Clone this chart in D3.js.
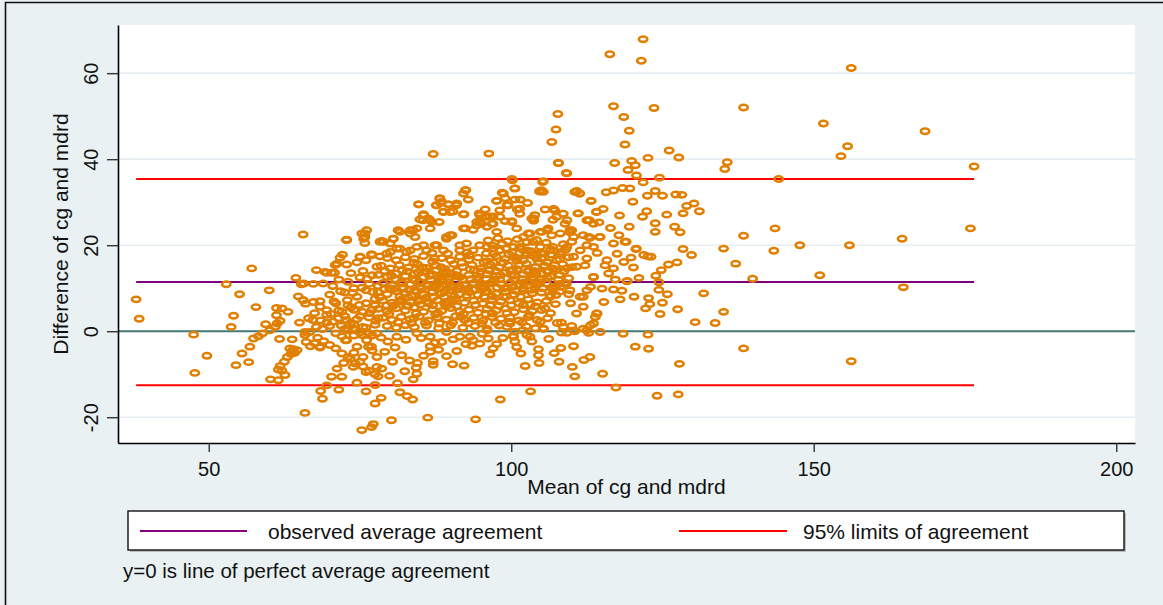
<!DOCTYPE html>
<html>
<head>
<meta charset="utf-8">
<script src="https://cdn.jsdelivr.net/npm/d3@7"></script>
<style>
  body { margin: 0; background: #e9f1f3; }
  svg { display: block; font-family: "Liberation Sans", Arial, sans-serif; }
</style>
</head>
<body>
<svg width="1163" height="605"></svg>
<script>
// Bland-Altman: mean of cg and mdrd vs their difference

const xTicks = [50, 100, 150, 200];
const yTicks = [-20, 0, 20, 40, 60];

const meanDiff = 11.45;
const upperLoA = 35.4;
const lowerLoA = -12.55;

const legendLabels = ["observed average agreement", "95% limits of agreement"];
const noteText = "y=0 is line of perfect average agreement";

// [mean, difference] pairs
const leftTail = [
  [38.0,7.4],[38.5,2.9],[47.5,-0.8],[47.7,-9.7],[49.7,-5.7],[52.9,10.9],[53.7,1.0],[54.1,3.6],[55.1,8.6],
  [54.5,-7.9],[55.5,-5.2],[56.6,-7.2],[57.1,14.6],[57.8,5.6],[60.0,9.5],[56.8,-3.6],[57.4,-1.7],[58.2,-1.2],
  [58.9,-0.5],[59.4,1.6],[60.1,0.2],[61.0,1.0],[61.3,1.8],[61.8,2.4],[61.2,5.4],[62.1,5.3],[63.1,4.5],
  [61.2,3.7],[61.7,-1.8],[63.8,-1.9],[65.0,2.0],[64.4,12.4],[65.3,10.9],[64.8,8.1],[65.6,7.2],[66.0,6.4],
  [65.6,22.5],[63.4,-4.0],[63.8,-4.6],[64.2,-5.0],[64.6,-4.4],[63.6,-5.3],[64.0,-4.2],[63.0,-6.0],[62.5,-7.1],
  [61.8,-8.1],[61.5,-8.9],[62.1,-9.2],[62.6,-10.2],[60.2,-11.2],[61.5,-11.4],[68.4,-3.8],[72.6,-2.1],
  [65.9,-19.0],[68.8,-15.7],[68.5,-13.9],[69.5,-12.6],[71.5,-13.6],[70.3,-10.6],[72.0,-10.6],[71.2,-8.7],
  [72.3,-7.4],[73.4,-6.4],[73.9,-8.3],[75.0,-7.1],[75.3,-23.0],[76.9,-22.3],[77.2,-21.6],
  [72.8,21.3],[75.3,22.7],[75.8,21.9],[75.8,20.5],[72.1,17.8],[71.2,15.7],[70.8,13.6],[67.8,14.2],
  [69.5,13.6],[67.3,11.0],[68.9,11.1],[68.4,7.0],[75.0,17.3],[77.0,17.7],[78.3,20.8],[68.4,5.7],[69.5,4.9],
  [67.2,2.6],[67.8,1.0],[66.7,-0.2],[65.9,-0.9],[71.9,1.3],[72.8,2.6],[73.9,0.6],[75.3,-0.9],[76.1,-2.1],
  [76.9,-3.6],[74.5,-3.6],[77.8,-6.0],[77.8,-8.3],[66.1,-2.5],
  [66.5,3.0],[67.5,4.2],[68.5,2.5],[69.5,3.8],[70.5,2.2],[71.5,4.8],[72.5,3.5],[73.5,5.5],[74.5,2.8],
  [75.5,4.5],[76.5,3.2],[77.5,6.0],[68.8,0.5],[70.0,1.2],[71.0,-0.5],[72.0,-1.2],[73.0,0.2],[74.0,1.5],
  [75.0,-0.3],[76.0,0.8],[77.0,-1.0],[68.0,-1.5],[69.0,-2.3],[70.0,-3.2],[71.0,-4.0],[72.0,-5.2],[73.0,-6.0],
  [74.2,-7.5],[75.5,-8.2],[76.5,-9.2],[77.5,-10.0],[67.5,-2.8],[66.8,-3.5],
  [70.5,10.5],[71.5,12.0],[72.5,9.0],[73.0,11.5],[73.5,13.5],[74.0,10.0],[74.5,8.0],[75.0,12.5],[75.5,14.0],
  [76.0,9.5],[76.5,11.0],[77.0,13.0],[77.5,7.5],[78.0,10.5],[70.0,8.5],[71.0,6.5],[72.0,4.5],[73.0,6.0],
  [74.0,5.0],[75.0,3.5],[76.0,6.5],[77.0,5.0],[78.0,3.0],[71.5,3.0],[73.5,2.0],[75.5,1.0],[77.5,1.5],
  [76.5,-0.5],[74.5,16.0],[76.0,16.5],[77.8,15.0],[72.8,15.5],[70.2,4.0],[69.5,2.0],[72.5,0.5],[74.0,-1.0],
  [78.5,-1.5],[77.0,-4.5],[74.0,-5.0],[75.5,-6.0],[78.0,-10.5],[76.0,-9.5],[74.5,-12.0],[77.5,-12.5],
  [76.0,-14.0],[78.5,-15.5],[77.5,-16.8],[72.8,21.2],[71.7,17.1],[70.9,15.4],[70.3,13.6],[69.2,13.8],
  [75.0,17.3],[76.9,17.9],[76.1,23.5],[75.6,21.5],[65.7,11.1],[67.3,6.8],[65.6,7.2]
];

const lowerMiddle = [
  [80.2,-20.7],[86.2,-20.1],[94.1,-20.5],[98.2,-15.9],[103.2,-14.0],[81.6,-14.2],[82.8,-15.1],[83.7,-15.9],
  [83.8,-11.2],[84.4,-9.9],[84.3,-8.5],[84.5,-7.4],[85.5,-5.7],[86.6,-4.8],[87.1,-7.0],[87.1,-7.8],[86.6,-3.5],
  [87.4,-2.7],[88.5,-2.5],[89.3,-5.8],[90.3,-7.7],[92.2,-8.0],[80.4,-7.1],[78.6,-8.7],[79.1,-4.8],[90.4,-1.9],
  [92.5,-3.0],[93.5,-3.4],[94.8,-2.9],[96.5,-5.4],[97.0,-4.0],[97.6,-3.0],[96.2,-1.7],[93.2,-1.3],[100.9,-3.7],
  [100.6,-2.4],[102.3,-8.1],[103.4,-2.4],[104.5,-4.2],[104.5,-5.6],[104.6,-7.4],[108.2,-3.9],[107.9,-7.1],
  [110.1,-8.3],[110.5,-10.5],[110.3,-3.5],[100.3,-1.1],[101.9,0.2],[105.3,0.6],[108.3,-0.3],[109.2,-0.4],
  [110.5,0.0],[108.3,2.0],[110.0,1.2],[100.6,-0.1],[99.8,1.8],[86.6,-1.3],[84.4,-0.5],[81.1,-1.3],[77.8,-0.5],
  [76.4,-3.6],[72.8,-2.1],[68.4,-3.6],[65.9,-0.2],[93.7,-2.1],[91.5,-1.3],[89.3,-0.2],[96.0,0.2],[99.3,1.0],
  [100.4,-1.3],[103.1,-1.3],[105.3,0.6],[108.6,1.0],
  [79.6,-2.4],[80.8,-3.8],[81.9,-5.6],[82.6,-2.0],[83.2,-6.8],[85.1,-1.6],[88.0,-4.3],[91.0,-4.6],[95.2,-0.6],
  [98.6,-1.6],[101.6,-5.2],[106.2,-1.8],[107.1,-5.1],[102.6,-0.9],[79.9,-10.4],[81.2,-12.1],[82.4,-9.3]
];

const upperMiddle = [
  [100.2,35.1],[105.2,34.7],[100.6,33.2],[104.7,32.5],[105.3,32.4],[92.5,32.8],[92.1,32.0],[88.2,30.8],
  [88.5,30.1],[84.7,29.5],[87.6,29.3],[89.6,29.5],[90.9,29.3],[92.2,27.2],[89.9,27.7],[88.8,27.7],[85.5,27.0],
  [85.4,25.8],[86.6,25.8],[88.1,25.4],[94.7,27.4],[95.7,28.3],[97.6,30.3],[98.7,32.0],[99.3,29.3],[100.6,30.6],
  [101.4,28.5],[101.4,27.3],[96.5,26.7],[98.1,26.6],[100.1,25.6],[97.0,25.0],[94.8,25.4],[94.3,24.6],
  [92.4,23.9],[89.9,22.3],[89.3,21.5],[83.8,23.5],[83.3,22.7],[81.6,23.1],[80.5,21.5],[80.0,20.4],[78.9,20.8],
  [103.4,26.2],[103.9,27.0],[107.2,28.1],[108.6,27.3],[110.5,32.4],[106.9,25.9],[108.9,25.0],[109.7,23.5],
  [110.3,21.9],[110.0,20.8],[105.9,23.5],[106.7,22.3],[105.0,23.1],[102.8,22.7],[102.0,21.9],[103.6,20.8],
  [101.4,19.6],[99.2,19.2],[97.0,19.2],[94.8,20.0],[92.6,20.4],[91.5,18.8],[87.7,20.0],[86.0,18.8],[84.4,19.6],
  [82.7,18.4],[81.1,19.2],[79.4,18.0],[106.9,19.6],[108.3,18.4],[110.3,17.3],[110.8,15.0],[109.2,14.6],
  [107.5,16.5],[105.9,16.1],[104.2,16.9],[102.5,17.7],
  [87.1,41.2],[96.3,41.3],[107.8,39.1],[109.1,36.8],[100.1,35.4],[105.3,34.9],[105.0,32.8],[104.7,32.6],
  [92.4,32.8],[98.5,32.2],[100.6,33.2],[110.8,32.6],[111.3,32.0],[113.2,30.3],[88.2,30.9],[88.3,29.8],
  [84.7,29.5],[89.6,29.5],[91.0,29.7],[92.9,30.6],[97.6,30.3],[99.0,30.9],[99.5,29.3],[101.5,30.6],[102.7,29.8],
  [87.7,29.3],[98.1,28.1],[101.0,28.3],[105.6,28.3],[107.0,28.3],[111.1,27.4],[114.1,27.8],[85.5,27.2],
  [86.3,26.2],[86.9,25.4],[84.9,26.0],[88.8,27.8],[90.4,27.8],[92.1,27.2],[94.8,27.0],[96.0,26.6],[97.0,26.7],
  [94.3,25.4],[95.1,25.0],[96.8,25.0],[99.0,25.6],[100.1,25.4],[103.7,26.2],[103.7,25.7],[107.5,26.6],
  [109.2,25.8],[112.5,25.8],[113.6,25.0],[75.8,22.7],[72.8,21.2],[78.6,21.0],[80.5,21.5],[81.3,23.5],
  [83.3,23.5],[84.4,23.9],[84.1,21.9],[86.6,23.9],[89.3,21.9],[90.2,22.3],[92.1,23.9],[93.7,23.6],[96.0,24.3],
  [97.6,23.1],[100.9,23.9],[103.1,22.7],[104.8,23.1],[106.1,23.9],[108.1,22.7],[110.0,23.5],[111.9,22.3],
  [113.0,21.8],[78.3,17.4],[80.0,18.4],[81.6,19.2],[83.3,18.8],[85.5,20.0],[87.4,20.0],[88.8,18.8],
  [91.5,20.0],[93.7,18.8],[96.0,19.6],[98.1,18.8],[100.4,19.6],[102.6,18.8],[104.8,19.6],[107.0,18.8],
  [109.2,19.6],[111.4,18.8],[113.6,19.6],[113.6,12.6],[112.5,9.5],[111.4,8.0],[109.7,9.5],[108.1,10.3],
  [110.8,4.1],[111.9,5.7],[114.1,4.1],[113.6,1.8],[112.5,0.2],[110.3,0.2],[105.3,0.6]
];

const core = [
  [79.5,17.0],[81.0,16.5],[82.5,17.2],[84.0,16.8],[85.5,17.5],[87.0,16.2],[88.5,17.0],[90.0,16.5],[91.5,17.3],
  [93.0,16.6],[94.5,17.1],[96.0,16.3],[97.5,17.4],[99.0,16.8],[100.5,17.2],[102.0,16.5],[103.5,17.6],
  [105.0,16.9],[106.5,17.8],[108.0,16.7],[109.5,17.2],
  [78.5,15.2],[80.0,14.6],[81.5,15.4],[83.0,14.8],[84.5,15.5],[86.0,14.7],[87.5,15.3],[89.0,14.5],[90.5,15.6],
  [92.0,14.9],[93.5,15.4],[95.0,14.6],[96.5,15.5],[98.0,14.8],[99.5,15.3],[101.0,14.4],[102.5,15.7],
  [104.0,14.9],[105.5,15.2],[107.0,14.5],[108.5,15.6],[110.0,14.9],
  [78.0,13.1],[79.5,12.6],[81.0,13.4],[82.5,12.8],[84.0,13.3],[85.5,12.5],[87.0,13.2],[88.5,12.7],[90.0,13.5],
  [91.5,12.6],[93.0,13.1],[94.5,12.4],[96.0,13.3],[97.5,12.8],[99.0,13.6],[100.5,12.9],[102.0,13.2],
  [103.5,12.5],[105.0,13.4],[106.5,12.7],[108.0,13.1],[109.5,12.3],
  [78.8,11.2],[80.3,10.7],[81.8,11.4],[83.3,10.9],[84.8,11.5],[86.3,10.6],[87.8,11.3],[89.3,10.8],[90.8,11.6],
  [92.3,10.7],[93.8,11.2],[95.3,10.5],[96.8,11.4],[98.3,10.9],[99.8,11.3],[101.3,10.6],[102.8,11.5],
  [104.3,10.8],[105.8,11.1],[107.3,10.4],[108.8,11.2],
  [78.0,9.1],[79.5,8.6],[81.0,9.3],[82.5,8.7],[84.0,9.4],[85.5,8.5],[87.0,9.2],[88.5,8.8],[90.0,9.5],[91.5,8.6],
  [93.0,9.1],[94.5,8.4],[96.0,9.3],[97.5,8.7],[99.0,9.2],[100.5,8.5],[102.0,9.4],[103.5,8.8],[105.0,9.0],
  [106.5,8.3],[108.0,9.2],[109.5,8.6],
  [78.8,7.1],[80.3,6.6],[81.8,7.3],[83.3,6.8],[84.8,7.4],[86.3,6.5],[87.8,7.2],[89.3,6.7],[90.8,7.5],[92.3,6.6],
  [93.8,7.1],[95.3,6.4],[96.8,7.3],[98.3,6.9],[99.8,7.2],[101.3,6.5],[102.8,7.4],[104.3,6.7],[105.8,7.0],
  [107.3,6.3],
  [78.0,5.2],[79.5,4.6],[81.0,5.3],[82.5,4.8],[84.0,5.5],[85.5,4.5],[87.0,5.1],[88.5,4.7],[90.0,5.4],[91.5,4.6],
  [93.0,5.0],[94.5,4.3],[96.0,5.2],[97.5,4.8],[99.0,5.3],[100.5,4.4],[102.0,5.1],[103.5,4.7],[105.0,4.9],
  [106.5,4.2],
  [78.8,3.1],[80.3,2.6],[81.8,3.3],[83.3,2.8],[84.8,3.4],[86.3,2.5],[87.8,3.2],[89.3,2.7],[90.8,3.5],[92.3,2.6],
  [93.8,3.1],[95.3,2.4],[96.8,3.3],[98.3,2.9],[99.8,3.2],[101.3,2.5],[102.8,3.3],[104.3,2.6],[106.0,3.0],
  [79.5,1.2],[81.0,0.8],[82.5,1.4],[84.0,0.9],[86.0,1.3],[88.0,0.7],[90.0,1.4],[92.0,0.8],[94.0,1.2],[96.0,0.6],
  [98.0,1.3],[102.5,1.1],[104.0,0.7],
  [82.2,10.1],[83.7,12.1],[85.2,9.9],[86.7,11.9],[88.2,10.0],[89.7,12.0],[91.2,9.8],[82.9,7.9],[84.4,9.1],
  [85.9,7.8],[87.4,10.2],[88.9,8.0],[90.4,10.1],[86.0,13.9],[87.6,14.1],[89.2,13.8],[84.6,13.7],[91.0,14.0],
  [83.0,6.0],[85.0,6.2],[87.0,6.0],[89.0,6.3],[91.0,5.8],
  [96.2,21.1],[97.8,21.6],[99.4,20.9],[101.0,21.4],[102.6,20.7],[104.2,21.2],[105.8,20.6],[96.9,19.9],
  [98.5,20.3],[100.1,18.4],[101.7,19.1],[103.3,18.6],[104.9,18.2],[106.5,19.0],[95.5,16.0],[97.1,18.0],
  [100.2,14.2],[103.8,14.0],[106.2,13.9],[107.8,12.0],[95.6,10.0],[97.2,12.0],[98.8,10.0],[100.4,12.0],
  [102.0,10.0],[103.6,12.0],[105.2,10.0],[106.8,9.8],[96.5,6.0],[98.0,5.9],[100.0,6.0],[102.0,6.1],[104.0,5.8]
];

// the solid part of the cloud, where the rings overlap
const coreDense = [
  [80.9,12.0],[81.6,8.0],[82.0,14.1],[82.7,5.9],[83.1,9.6],[83.9,15.9],[84.3,4.1],[84.9,10.3],[85.6,13.9],
  [86.1,6.9],[86.8,9.0],[87.3,16.9],[87.9,4.2],[88.3,11.9],[88.7,13.4],[89.6,6.1],[89.9,10.4],[90.6,8.1],
  [91.1,12.8],[91.8,15.9],[92.1,4.0],[92.8,9.9],[93.3,12.1],[93.9,14.1],[94.1,6.1],[94.8,10.2],[95.5,8.0],
  [95.9,12.1],[96.4,14.1],[96.9,4.1],[97.7,10.1],[98.2,13.0],[98.7,16.0],[99.2,8.0],[99.9,14.0],[100.3,10.3],
  [100.9,16.4],[101.5,8.0],[101.9,12.1],[102.4,18.1],[102.9,14.2],[103.2,6.2],[103.9,10.1],[104.5,16.1],
  [104.9,12.1],[105.5,18.0],[105.9,14.0],[106.4,8.0],[106.9,10.1],[107.5,14.2],[108.1,17.9],[108.6,20.2],
  [109.1,11.0],[109.8,6.5],[79.1,14.0],[79.9,10.0],[80.5,5.9],[81.3,2.1],[83.5,1.9],[85.8,2.0],[88.1,1.8],
  [90.3,2.0],[92.9,1.9],[95.1,1.8],[97.4,2.0],[99.7,2.2],[101.8,2.0],[104.8,2.2],[107.6,1.9],[86.9,18.2],
  [89.5,18.0],[92.7,18.3],[95.9,18.1],[99.6,17.9],[78.3,7.9],[77.1,9.1],[76.2,12.2],[75.3,10.1],[74.9,6.1],
  [73.8,8.9],[72.9,7.2],[71.8,9.3],[70.7,6.9],[76.6,4.2],[77.6,2.4],[79.4,6.0],
  [80.2,12.9],[80.8,9.9],[81.4,6.9],[82.1,11.1],[82.8,13.9],[83.5,8.3],[84.1,11.8],[84.7,7.0],[85.3,14.8],
  [85.9,10.9],[86.5,12.9],[87.1,7.9],[87.7,10.6],[88.4,14.9],[89.0,9.3],[89.6,11.4],[90.2,7.2],[90.8,13.1],
  [91.4,10.4],[92.0,12.0],[92.6,8.3],[93.2,14.4],[93.8,9.7],[94.4,11.9],[95.0,13.9],[95.7,9.1],[96.3,11.0],
  [96.9,8.1],[97.5,14.0],[98.1,12.0],[98.7,8.0],[99.4,10.2],[100.0,13.2],[100.7,9.4],[101.3,15.3],[102.0,11.3],
  [102.7,13.9],[103.4,9.6],[104.1,13.3],[104.8,11.4],[105.4,15.0],[106.0,12.3],[106.8,14.6],[107.4,8.4],
  [108.0,11.0],[108.7,13.9],[79.0,9.8],[79.8,4.0],[83.9,3.0],[87.5,3.9],[91.7,3.3],[95.8,3.9],[99.3,4.2],
  [103.0,3.8],[105.6,5.3],[93.0,17.6],[97.0,16.0],[101.0,17.0],[104.0,18.0],[106.0,16.0],[109.0,19.0]
];

const rightTail = [
  [156.2,61.2],[151.6,48.3],[168.4,46.5],[155.6,43.0],[154.5,40.7],[176.5,38.3],[175.9,23.9],[164.6,21.5],
  [155.9,20.0],[147.7,20.0],[151.0,13.0],[164.8,10.2],[156.2,-7.0],[138.4,-4.0],
  [121.8,67.9],[116.3,64.4],[121.5,62.9],[116.9,52.3],[123.6,51.9],[138.4,52.0],[118.6,49.8],[119.5,46.6],
  [118.8,43.4],[107.7,50.5],[107.4,46.9],[106.7,44.0],[107.8,39.1],[109.2,36.7],[117.1,39.1],[119.9,39.6],
  [120.5,38.6],[119.3,37.5],[122.6,40.3],[126.1,42.0],[127.7,40.4],[120.7,36.2],[121.8,34.6],[124.5,35.7],
  [135.7,39.3],[135.3,37.7],[144.2,35.4],
  [110.8,32.5],[111.3,32.0],[115.7,32.3],[116.9,32.7],[118.4,33.3],[119.6,33.2],[113.2,30.3],[120.1,30.1],
  [122.5,31.5],[123.8,32.6],[125.0,31.5],[127.2,31.8],[128.2,31.7],[129.0,29.1],[130.2,29.7],[131.1,27.9],
  [128.4,27.4],[125.7,27.1],[122.4,27.9],[121.7,26.6],[117.9,26.9],[115.2,28.4],[114.1,27.7],[111.0,27.4],
  [107.0,28.4],[123.8,25.1],[127.0,24.3],[127.9,23.0],[123.8,23.1],[119.5,24.3],[116.4,24.0],[114.5,25.3],
  [112.9,25.8],[109.7,23.0],[114.6,21.9],[117.8,22.3],[113.0,21.7],[119.0,20.8],[138.4,22.2],[143.6,23.9],
  [143.4,18.7],[135.1,19.2],[128.4,19.1],[129.8,17.7],[137.1,15.7],[139.9,12.2],[126.0,15.5],[127.4,16.0],
  [124.8,14.2],[120.6,19.1],[122.6,17.4],[119.8,17.1],
  [131.8,8.8],[135.1,4.5],[130.4,2.1],[133.7,1.9],[127.5,5.1],[124.6,4.0],[127.8,-7.6],[122.6,-0.8],
  [120.5,-3.6],[122.7,-4.1],[118.5,-0.6],[114.7,-0.2],[115.1,-9.9],[117.3,-13.1],[124.1,-15.0],[127.6,-14.7],
  [113.0,-6.0],[112.0,-6.7],[123.9,12.9],[121.1,12.4],[119.2,11.7],[124.4,11.4],[124.4,9.6],[125.8,8.6],
  [125.0,6.6],[122.7,7.7],[122.9,6.3],[122.2,5.3],[120.3,8.0],[118.0,7.4],
  [112.5,16.9],[112.2,15.3],[115.8,16.5],[115.5,15.3],[118.6,16.1],[116.9,14.6],[120.2,14.8],[113.6,12.6],
  [116.1,13.4],[117.2,12.0],[119.1,11.6],[113.1,10.3],[115.0,9.9],[116.9,9.7],[118.3,9.4],[111.9,8.0],
  [115.3,6.8],[114.2,4.1],[113.9,3.3],[113.1,1.4],[111.9,0.6],[112.8,-0.4],[114.2,18.2],[117.5,18.0],
  [120.7,19.2],[121.9,17.7],[123.1,17.3],[116.9,20.4],[118.8,20.8],[112.5,20.0],[112.8,21.9],[114.7,21.9]
];

const points = leftTail.concat(lowerMiddle, upperMiddle, core, coreDense, rightTail);

// -----------------------------------------------------------------------------
// layout

const svg = d3.select("svg"),
    width = +svg.attr("width"),
    height = +svg.attr("height");

const plot = {left: 118, right: 1135, top: 25, bottom: 443};

const x = d3.scaleLinear().domain([35, 203.1]).range([plot.left, plot.right]);
const y = d3.scaleLinear().domain([-26, 71.2]).range([plot.bottom, plot.top]);

const bg = "#e9f1f3";

svg.append("rect")
   .attr("x", 0).attr("y", 0)
   .attr("width", width).attr("height", height)
   .attr("fill", bg);

// outer frame, only top and left edges fall inside the picture
svg.append("path")
   .attr("d", `M5.5,${height}V2.5H${width}`)
   .attr("fill", "none")
   .attr("stroke", "#111")
   .attr("stroke-width", 1.6);

svg.append("rect")
   .attr("x", plot.left).attr("y", plot.top)
   .attr("width", plot.right - plot.left)
   .attr("height", plot.bottom - plot.top)
   .attr("fill", "white");

// gridlines
svg.append("g")
   .selectAll("line")
   .data(yTicks)
   .enter().append("line")
   .attr("x1", plot.left).attr("x2", plot.right)
   .attr("y1", (d) => y(d)).attr("y2", (d) => y(d))
   .attr("stroke", "#e6eef1")
   .attr("stroke-width", 1.6);

// zero line
svg.append("line")
   .attr("x1", plot.left).attr("x2", plot.right)
   .attr("y1", y(0)).attr("y2", y(0))
   .attr("stroke", "#457a76")
   .attr("stroke-width", 2);

const [xmin, xmax] = d3.extent(points, (d) => d[0]);

const refLines = [
  {v: meanDiff, color: "#800080"},
  {v: upperLoA, color: "#ff0000"},
  {v: lowerLoA, color: "#ff0000"}
];

svg.append("g")
   .selectAll("line")
   .data(refLines)
   .enter().append("line")
   .attr("x1", x(xmin)).attr("x2", x(xmax))
   .attr("y1", (d) => y(d.v)).attr("y2", (d) => y(d.v))
   .attr("stroke", (d) => d.color)
   .attr("stroke-width", 2);

// markers
svg.append("g")
   .attr("class", "points")
   .selectAll("ellipse")
   .data(points)
   .enter().append("ellipse")
   .attr("cx", (d) => x(d[0]))
   .attr("cy", (d) => y(d[1]))
   .attr("rx", 4.2)
   .attr("ry", 2.7)
   .attr("fill", "none")
   .attr("stroke", "#e07f00")
   .attr("stroke-width", 2.5);

// axes
const fmt = (d) => String(d);

const yAxis = svg.append("g")
   .attr("transform", `translate(${plot.left},0)`)
   .call(d3.axisLeft(y).tickValues(yTicks).tickFormat(fmt).tickSize(11).tickSizeOuter(0));

yAxis.selectAll(".tick text")
   .attr("x", 0).attr("dy", 0)
   .attr("text-anchor", "middle")
   .attr("transform", "translate(-20,0) rotate(-90)");

const xAxis = svg.append("g")
   .attr("transform", `translate(0,${plot.bottom})`)
   .call(d3.axisBottom(x).tickValues(xTicks).tickFormat(fmt).tickSize(9).tickSizeOuter(0));

xAxis.selectAll(".tick text")
   .attr("y", 33).attr("dy", 0);

svg.selectAll(".tick text")
   .attr("font-size", 20)
   .attr("font-family", "Liberation Sans, Arial, sans-serif")
   .attr("fill", "#111");
svg.selectAll(".tick line").attr("stroke", "#333").attr("stroke-width", 1.4);
svg.selectAll(".domain").attr("stroke", "#000").attr("stroke-width", 1.6);

// axis titles
svg.append("text")
   .attr("transform", `translate(68,${(plot.top + plot.bottom) / 2}) rotate(-90)`)
   .attr("text-anchor", "middle")
   .attr("font-size", 21)
   .attr("fill", "#111")
   .text("Difference of cg and mdrd");

svg.append("text")
   .attr("x", (plot.left + plot.right) / 2)
   .attr("y", 494)
   .attr("text-anchor", "middle")
   .attr("font-size", 21)
   .attr("fill", "#111")
   .text("Mean of cg and mdrd");

// legend
const legend = svg.append("g");

legend.append("rect")
   .attr("x", 130).attr("y", 513)
   .attr("width", 996).attr("height", 39)
   .attr("fill", "#b8bcbe");

legend.append("rect")
   .attr("x", 128).attr("y", 511)
   .attr("width", 996).attr("height", 39)
   .attr("fill", "white")
   .attr("stroke", "#111")
   .attr("stroke-width", 1.4);

const legendItems = [
  {label: legendLabels[0], color: "#800080", x0: 140, x1: 247, tx: 268},
  {label: legendLabels[1], color: "#ff0000", x0: 679, x1: 787, tx: 803}
];

legendItems.forEach((d) => {
  legend.append("line")
     .attr("x1", d.x0).attr("x2", d.x1)
     .attr("y1", 531).attr("y2", 531)
     .attr("stroke", d.color)
     .attr("stroke-width", 2);
  legend.append("text")
     .attr("x", d.tx).attr("y", 539)
     .attr("font-size", 21)
     .attr("fill", "#111")
     .text(d.label);
});

svg.append("text")
   .attr("x", 123).attr("y", 578)
   .attr("font-size", 20.5)
   .attr("fill", "#111")
   .text(noteText);
</script>
</body>
</html>
